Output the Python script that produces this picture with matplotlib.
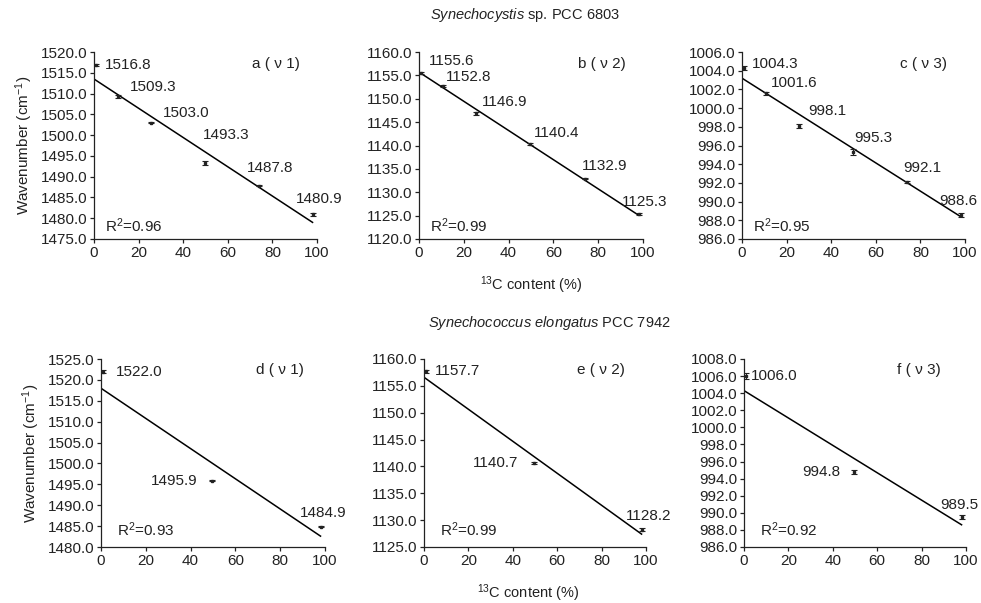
import numpy as np
import matplotlib
matplotlib.use("Agg")
import matplotlib.pyplot as plt

plt.rcParams["font.family"] = ["Liberation Sans", "DejaVu Sans"]
plt.rcParams["mathtext.fontset"] = "custom"
plt.rcParams["mathtext.rm"] = "Liberation Sans"
plt.rcParams["mathtext.it"] = "Liberation Sans:italic"

# 13C content (%) for each row
x_top = [1.1, 10.9, 25.4, 49.6, 74.1, 98.0]
x_bot = [1.1, 49.6, 98.0]

# wavenumbers (cm-1) and error bars
y_a = [1516.8, 1509.3, 1503.0, 1493.3, 1487.8, 1480.9]
e_a = [0.2, 0.3, 0.2, 0.4, 0.15, 0.25]
y_b = [1155.6, 1152.8, 1146.9, 1140.4, 1132.9, 1125.3]
e_b = [0.2, 0.2, 0.3, 0.2, 0.15, 0.2]
y_c = [1004.3, 1001.6, 998.1, 995.3, 992.1, 988.6]
e_c = [0.2, 0.15, 0.25, 0.3, 0.1, 0.2]
y_d = [1522.0, 1495.9, 1484.9]
e_d = [0.3, 0.2, 0.2]
y_e = [1157.7, 1140.7, 1128.2]
e_e = [0.3, 0.2, 0.3]
y_f = [1006.0, 994.8, 989.5]
e_f = [0.35, 0.2, 0.25]

# regression line ends (at 0 % and 98 %)
line_a = [1513.5, 1479.0]
line_b = [1155.7, 1125.1]
line_c = [1003.2, 988.4]
line_d = [1518.0, 1482.6]
line_e = [1156.6, 1127.4]
line_f = [1004.3, 988.6]

r2 = ["0.96", "0.99", "0.95", "0.93", "0.99", "0.92"]
names = ["a ( \u03bd 1)", "b ( \u03bd 2)", "c ( \u03bd 3)",
         "d ( \u03bd 1)", "e ( \u03bd 2)", "f ( \u03bd 3)"]
ylims = [(1475, 1520, 5), (1120, 1160, 5), (986, 1006, 2),
         (1480, 1525, 5), (1125, 1160, 5), (986, 1008, 2)]

# label offsets in points
off_a = [(6, 0), (8, 7), (9, 7), (-1, 20), (-9, 13), (-12, 11)]
off_b = [(5, 8), (2, 6), (4, 8), (3, 8), (-2, 9), (-12, 9)]
off_c = [(5, 3), (3, 7), (7, 11), (1, 10), (-3, 10), (-15, 10)]
off_d = [(9, 0), (-44, 0), (-15, 10)]
off_e = [(6, 0), (-44, 0), (-11, 10)]
off_f = [(3, 0), (-37, 0), (-15, 9)]

panels = [
    (x_top, y_a, e_a, line_a, off_a),
    (x_top, y_b, e_b, line_b, off_b),
    (x_top, y_c, e_c, line_c, off_c),
    (x_bot, y_d, e_d, line_d, off_d),
    (x_bot, y_e, e_e, line_e, off_e),
    (x_bot, y_f, e_f, line_f, off_f),
]

W, H = 981, 603
boxes = [(94, 52, 317, 239), (419, 52, 643, 239), (742, 52, 965, 239),
         (101, 359, 325, 547), (424, 359, 646, 547), (744, 359, 966, 547)]

fig = plt.figure(figsize=(W / 100, H / 100), dpi=100)
fs = 11
ink = "#222222"

for i, (xs, ys, es, line, offs) in enumerate(panels):
    l, t, r, b = boxes[i]
    ax = fig.add_axes([l / W, 1 - b / H, (r - l) / W, (b - t) / H])
    ax.errorbar(xs, ys, yerr=es, fmt="s", ms=1.8, color=ink, ecolor=ink,
                elinewidth=0.8, capsize=2, capthick=0.8, zorder=3)
    ax.plot([0, 98], line, color="black", lw=1.1)
    for x, y, o in zip(xs, ys, offs):
        ax.annotate(f"{y:.1f}", (x, y), xytext=o, textcoords="offset points",
                    fontsize=fs, color=ink, va="center", ha="left")
    lo, hi, st = ylims[i]
    ax.set_ylim(lo, hi)
    ax.set_yticks(np.arange(lo, hi + st / 2, st))
    ax.set_yticklabels([f"{v:.1f}" for v in np.arange(lo, hi + st / 2, st)])
    ax.set_xlim(0, 100)
    ax.set_xticks(range(0, 101, 20))
    for s in ["top", "right"]:
        ax.spines[s].set_visible(False)
    for s in ["left", "bottom"]:
        ax.spines[s].set_color(ink)
        ax.spines[s].set_linewidth(0.9)
    ax.tick_params(labelsize=fs, colors=ink, length=3, width=0.9, pad=2)
    fx = 0.71 if i < 3 else 0.69
    ax.text(fx, 0.935 if i < 3 else 0.94, names[i], transform=ax.transAxes,
            fontsize=fs, color=ink, va="center")
    ax.text(0.05 if i < 3 else 0.07, 0.07 if i < 3 else 0.09,
            "R$^2$=" + r2[i], transform=ax.transAxes,
            fontsize=fs, color=ink, va="center")
    if i % 3 == 0:
        ax.set_ylabel("Wavenumber (cm$^{-1}$)", fontsize=fs, color=ink,
                      labelpad=4)

fig.text(525 / W, 1 - 15 / H, "$\\it{Synechocystis}$ sp. PCC 6803",
         ha="center", va="center", fontsize=fs - 0.5, color=ink)
fig.text(549 / W, 1 - 323 / H, "$\\it{Synechococcus\\ elongatus}$ PCC 7942",
         ha="center", va="center", fontsize=fs - 0.5, color=ink)
fig.text(531 / W, 1 - 285 / H, "$^{13}$C content (%)",
         ha="center", va="center", fontsize=fs - 0.5, color=ink)
fig.text(528 / W, 1 - 593 / H, "$^{13}$C content (%)",
         ha="center", va="center", fontsize=fs - 0.5, color=ink)

fig.savefig("out.png", dpi=100, facecolor="white")
